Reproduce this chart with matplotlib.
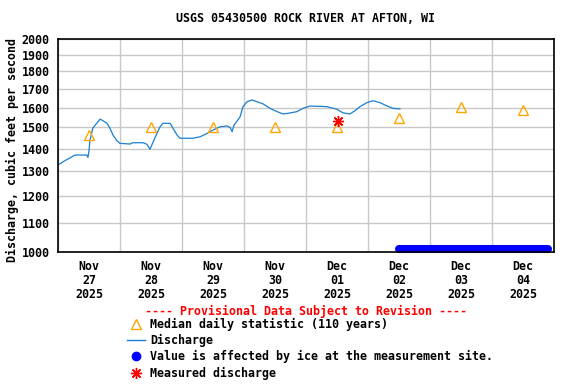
import numpy as np
import matplotlib
matplotlib.use('Agg')
import matplotlib.pyplot as plt
from matplotlib.lines import Line2D
from matplotlib.ticker import NullLocator, FixedLocator

# hours since 2025-11-27 00:00
q_hours = [0, 0.8, 2.5, 4.6, 6.6, 9.0, 11.2, 11.6, 12.0, 12.4, 13.5, 15.1, 16.3, 17.4, 19.0,
           20.1, 21.3, 22.8, 24.0, 27.9, 29.0, 32.9, 34.4, 35.6, 36.8, 38.3, 39.5,
           40.6, 43.4, 44.5, 46.1, 47.2, 52.3, 55.0, 57.7, 60.0, 62.7, 65.4, 66.6,
           67.4, 68.1, 70.5, 71.6, 73.2, 75.1, 77.0, 79.4, 82.1, 84.8, 87.1, 89.8,
           92.5, 94.8, 97.5, 104.1, 108.0, 110.3, 113.0, 115.0, 116.9, 119.6, 121.9,
           124.6, 127.4, 129.7, 132.4]
q_cfs = [1327, 1333, 1345, 1358, 1371, 1371, 1371, 1360, 1390, 1440, 1497, 1522, 1541, 1533, 1520,
         1496, 1463, 1436, 1424, 1421, 1427, 1427, 1420, 1397, 1430, 1471, 1503,
         1520, 1520, 1496, 1463, 1448, 1448, 1455, 1471, 1487, 1503, 1507, 1500,
         1479, 1510, 1553, 1605, 1631, 1640, 1631, 1619, 1596, 1579, 1567, 1572,
         1579, 1596, 1608, 1605, 1591, 1573, 1567, 1584, 1605, 1626, 1636,
         1626, 1608, 1596, 1593]

median_hours = [12, 36, 60, 84, 108, 132, 156, 180]
median_cfs = [1465, 1502, 1502, 1502, 1502, 1547, 1603, 1587]

meas_hours = [108.3]
meas_cfs = [1532]

ice_start, ice_end = 132.0, 189.5

day_labels = ['Nov\n27\n2025', 'Nov\n28\n2025', 'Nov\n29\n2025', 'Nov\n30\n2025',
              'Dec\n01\n2025', 'Dec\n02\n2025', 'Dec\n03\n2025', 'Dec\n04\n2025']
yticks = [1000, 1100, 1200, 1300, 1400, 1500, 1600, 1700, 1800, 1900, 2000]

plt.rcParams['font.family'] = 'DejaVu Sans Mono'
plt.rcParams['font.weight'] = 'bold'
fs = 8.35

fig = plt.figure(figsize=(5.76, 3.84), dpi=100)
ax = fig.add_axes([58/576, 1-252/384, 496/576, 213/384])

ax.set_yscale('log')
ax.set_ylim(1000, 2000)
ax.set_xlim(0, 192)
ax.yaxis.set_major_locator(FixedLocator(yticks))
ax.yaxis.set_minor_locator(NullLocator())
ax.set_yticklabels([str(v) for v in yticks], fontsize=fs, fontweight='bold')
ax.set_xticks(median_hours)
ax.set_xticklabels(day_labels, fontsize=fs, fontweight='bold', linespacing=1.08)
ax.set_xticks(np.arange(0, 193, 24), minor=True)
ax.tick_params(which='both', length=0)
ax.tick_params(axis='y', pad=6)
ax.tick_params(axis='x', pad=6)
ax.grid(which='major', axis='y', color='#c8c8c8', lw=1)
ax.grid(which='minor', axis='x', color='#c8c8c8', lw=1)
ax.set_axisbelow(True)
for s in ax.spines.values():
    s.set_linewidth(1.2)
    s.set_color('black')

col_q = '#1a7fd0'
ax.plot(q_hours, q_cfs, color=col_q, lw=0.9)
ax.plot(median_hours, median_cfs, ls='none', marker='^', ms=7.5, mfc='none', mec='orange', mew=1)
ax.plot(meas_hours, meas_cfs, ls='none', marker=(8, 2, 0), ms=8, color='red', mew=1)
ax.plot([ice_start, ice_end], [1011, 1011], color='blue', lw=5.8, solid_capstyle='round', clip_on=False)

fig.text(306/576, 1-19/384, 'USGS 05430500 ROCK RIVER AT AFTON, WI', ha='center', va='center',
         fontsize=fs, fontweight='bold')
fig.text(12/576, 1-150/384, 'Discharge, cubic feet per second', rotation=90, ha='center',
         va='center', fontsize=fs, fontweight='bold')

fig.text(306/576, 1-311/384, '---- Provisional Data Subject to Revision ----', ha='center',
         va='center', fontsize=fs, fontweight='bold', color='red')
rows = [324, 340, 356, 373]
labels = ['Median daily statistic (110 years)', 'Discharge',
          'Value is affected by ice at the measurement site.', 'Measured discharge']
mx = 136/576
for r, lab in zip(rows, labels):
    fig.text(150/576, 1-r/384, lab, ha='left', va='center', fontsize=fs, fontweight='bold')
yy = [1-r/384 for r in rows]
fig.add_artist(Line2D([mx], [yy[0]], marker='^', ms=7, mfc='none', mec='orange', mew=1,
                      ls='none', transform=fig.transFigure))
fig.add_artist(Line2D([127/576, 145/576], [yy[1], yy[1]], color=col_q, lw=1,
                      transform=fig.transFigure))
fig.add_artist(Line2D([mx], [yy[2]], marker='o', ms=6, color='blue', ls='none',
                      transform=fig.transFigure))
fig.add_artist(Line2D([mx], [yy[3]], marker=(8, 2, 0), ms=8, color='red', mew=1, ls='none',
                      transform=fig.transFigure))

fig.savefig('out.png', dpi=100)
